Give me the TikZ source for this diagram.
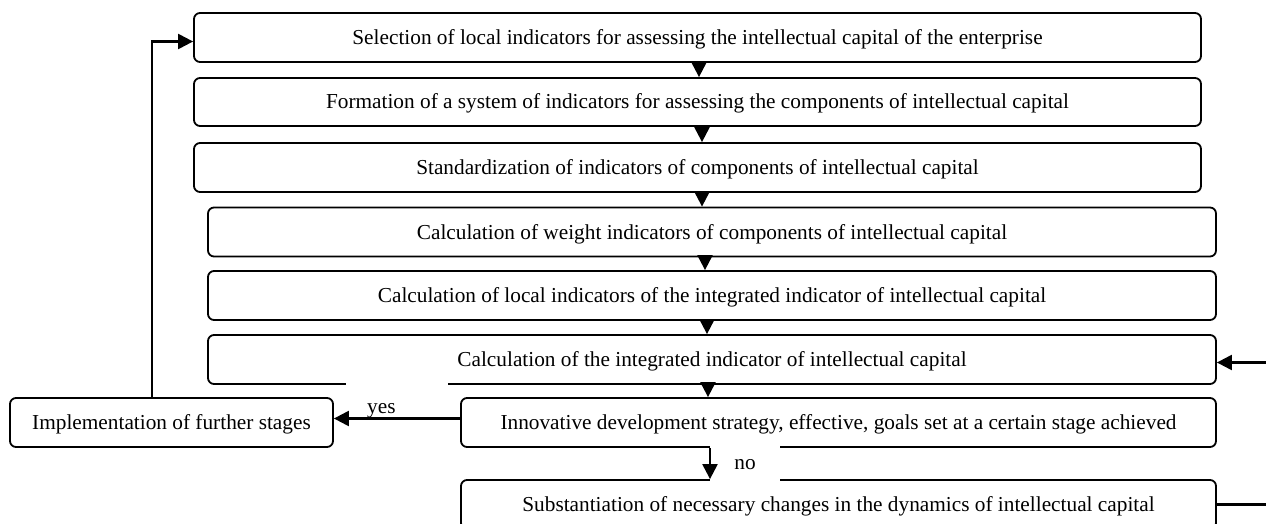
\documentclass[tikz,border=0pt]{standalone}
\usepackage{fontspec}
\setmainfont{Liberation Serif}
\usetikzlibrary{arrows.meta,calc}
\begin{document}
\begin{tikzpicture}[x=1pt,y=-1pt,
  box/.style={draw,line width=1.8pt,rounded corners=6pt,minimum height=49pt,inner sep=0pt,text height=14pt,text depth=0pt,font=\fontsize{21.3}{24}\selectfont},
  arr/.style={line width=2.2pt,-{Triangle[length=15pt,width=15pt]}},
  lbl/.style={inner sep=0pt,font=\fontsize{21.3}{24}\selectfont}]
\clip (0,0) rectangle (1266,524);
\fill[white] (0,0) rectangle (1266,524);
\node[box,minimum width=1007pt] (b1) at (697.5,37.5) {Selection of local indicators for assessing the intellectual capital of the enterprise};
\node[box,minimum width=1007pt,minimum height=48pt] (b2) at (697.5,102) {Formation of a system of indicators for assessing the components of intellectual capital};
\node[box,minimum width=1007pt] (b3) at (697.5,167.5) {Standardization of indicators of components of intellectual capital};
\node[box,minimum width=1008pt] (b4) at (712,232) {Calculation of weight indicators of components of intellectual capital};
\node[box,minimum width=1008pt] (b5) at (712,295.5) {Calculation of local indicators of the integrated indicator of intellectual capital};
\node[box,minimum width=1008pt] (b6) at (712,359.5) {Calculation of the integrated indicator of intellectual capital};
\node[box,minimum width=755pt] (b7) at (838.5,422.5) {Innovative development strategy, effective, goals set at a certain stage achieved};
\node[box,minimum width=755pt] (b8) at (838.5,504.5) {Substantiation of necessary changes in the dynamics of intellectual capital};
\node[box,minimum width=323pt] (impl) at (171.5,422.5) {Implementation of further stages};
% gaps in the lines
\fill[white] (346,379) rectangle (448,389);
\node[lbl,fill=white,minimum width=70pt,minimum height=44pt] (no) at (745,464) {};
\node[lbl,anchor=base] at (745,469) {no};
\node[lbl,anchor=base west] (yes) at (367,413) {yes};
% arrows between steps
\draw[arr] ([xshift=1.5pt]b1.south) -- ([xshift=1.5pt]b1.south |- b2.north);
\draw[arr] ([xshift=4.5pt]b2.south) -- ([xshift=4.5pt]b2.south |- b3.north);
\draw[arr] ([xshift=4.5pt]b3.south) -- ([xshift=4.5pt]b3.south |- b4.north);
\draw[arr] ([xshift=-7pt]b4.south) -- ([xshift=-7pt]b4.south |- b5.north);
\draw[arr] ([xshift=-5pt]b5.south) -- ([xshift=-5pt]b5.south |- b6.north);
\draw[arr] ([xshift=-4pt]b6.south) -- ([xshift=-4pt]b6.south |- b7.north);
\draw[arr] ([xshift=-128.5pt]b7.south) -- ([xshift=-128.5pt]b7.south |- b8.north);
% yes branch
\draw[arr] ([yshift=4pt]b7.west) -- ([yshift=4pt]impl.east);
% feedback left
\draw[arr] ([xshift=-19.5pt]impl.north) |- ([yshift=-4pt]b1.west);
% feedback right
\draw[arr] (b8.east) -- ++(60,0) |- ([yshift=-3pt]b6.east);
\end{tikzpicture}
\end{document}
